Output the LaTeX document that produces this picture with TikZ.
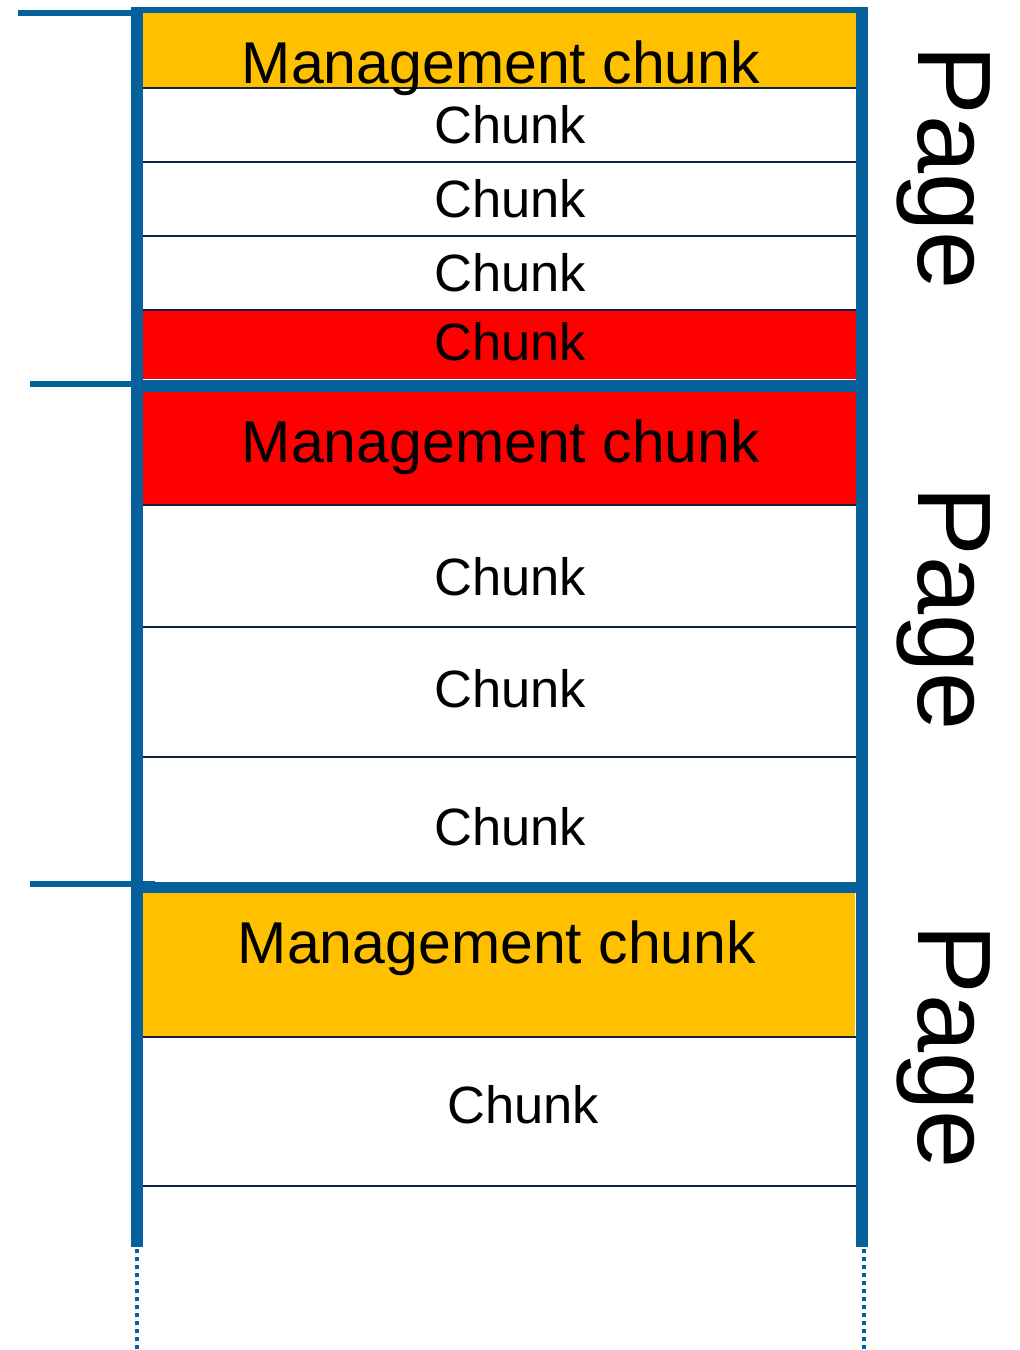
\documentclass[tikz,border=0pt]{standalone}
\usepackage{fontspec}
\setmainfont{Liberation Sans}

\definecolor{pageblue}{RGB}{5,96,156}
\definecolor{mgmtyellow}{RGB}{255,192,0}
\definecolor{mgmtred}{RGB}{255,0,0}
\definecolor{chunkline}{RGB}{16,32,64}

\begin{document}
\begin{tikzpicture}[x=1pt, y=-1pt,
  frame/.style={draw=pageblue, line width=12pt},
  tick/.style={draw=pageblue, line width=6pt},
  sep/.style={draw=chunkline, line width=2pt},
  more/.style={draw=pageblue, line width=4pt, dash pattern=on 4pt off 4pt},
  mgmt/.style={font=\fontsize{59}{71}\selectfont, inner sep=0pt, anchor=base},
  chunk/.style={font=\fontsize{52.5}{63}\selectfont, inner sep=0pt, anchor=base},
  pagelbl/.style={font=\fontsize{104.5}{125}\selectfont, inner sep=0pt, anchor=base, rotate=-90}]
\useasboundingbox (0,0) rectangle (1020,1350);

% coloured chunks
\fill[mgmtyellow] (143,13) rectangle (857,88);
\fill[mgmtred] (143,311) rectangle (857,379);
\fill[mgmtred] (143,392) rectangle (857,505);
\fill[mgmtyellow] (141,893) rectangle (855,1037);

% chunk borders
\draw[sep] (133,88) -- (857,88);
\draw[sep] (143,162) -- (857,162);
\draw[sep] (143,236) -- (857,236);
\draw[sep] (143,310) -- (863,310);
\draw[sep] (143,505) -- (863,505);
\draw[sep] (143,627) -- (857,627);
\draw[sep] (131,757) -- (857,757);
\draw[sep] (143,1037) -- (863,1037);
\draw[sep] (131,1186) -- (857,1186);

% page frame
\draw[frame] (137,7) -- (137,1247);
\draw[frame] (862,7) -- (862,1247);
\draw[tick] (131,10) -- (868,10);
\draw[frame] (131,385.5) -- (868,385.5);
\draw[frame, line width=11pt] (143,887.5) -- (868,887.5);
\draw[tick] (18,13) -- (131,13);
\draw[tick] (30,384) -- (131,384);
\draw[tick] (30,884) -- (155,884);
\draw[more] (137,1249) -- (137,1350);
\draw[more] (864,1249) -- (864,1350);

% first page
\node[mgmt] (mgmt1) at (501,83) {Management chunk};
\node[chunk] (c11) at (510,143) {Chunk};
\node[chunk] (c12) at (510,217) {Chunk};
\node[chunk] (c13) at (510,291) {Chunk};
\node[chunk] (c14) at (510,360) {Chunk};
\node[pagelbl] (page1) at (918,168) {Page};

% second page
\node[mgmt] (mgmt2) at (501,462) {Management chunk};
\node[chunk] (c21) at (510,595) {Chunk};
\node[chunk] (c22) at (510,707) {Chunk};
\node[chunk] (c23) at (510,845) {Chunk};
\node[pagelbl] (page2) at (918,609) {Page};

% third page
\node[mgmt] (mgmt3) at (497,963) {Management chunk};
\node[chunk] (c31) at (523,1123) {Chunk};
\node[pagelbl] (page3) at (918,1047) {Page};
\end{tikzpicture}
\end{document}
